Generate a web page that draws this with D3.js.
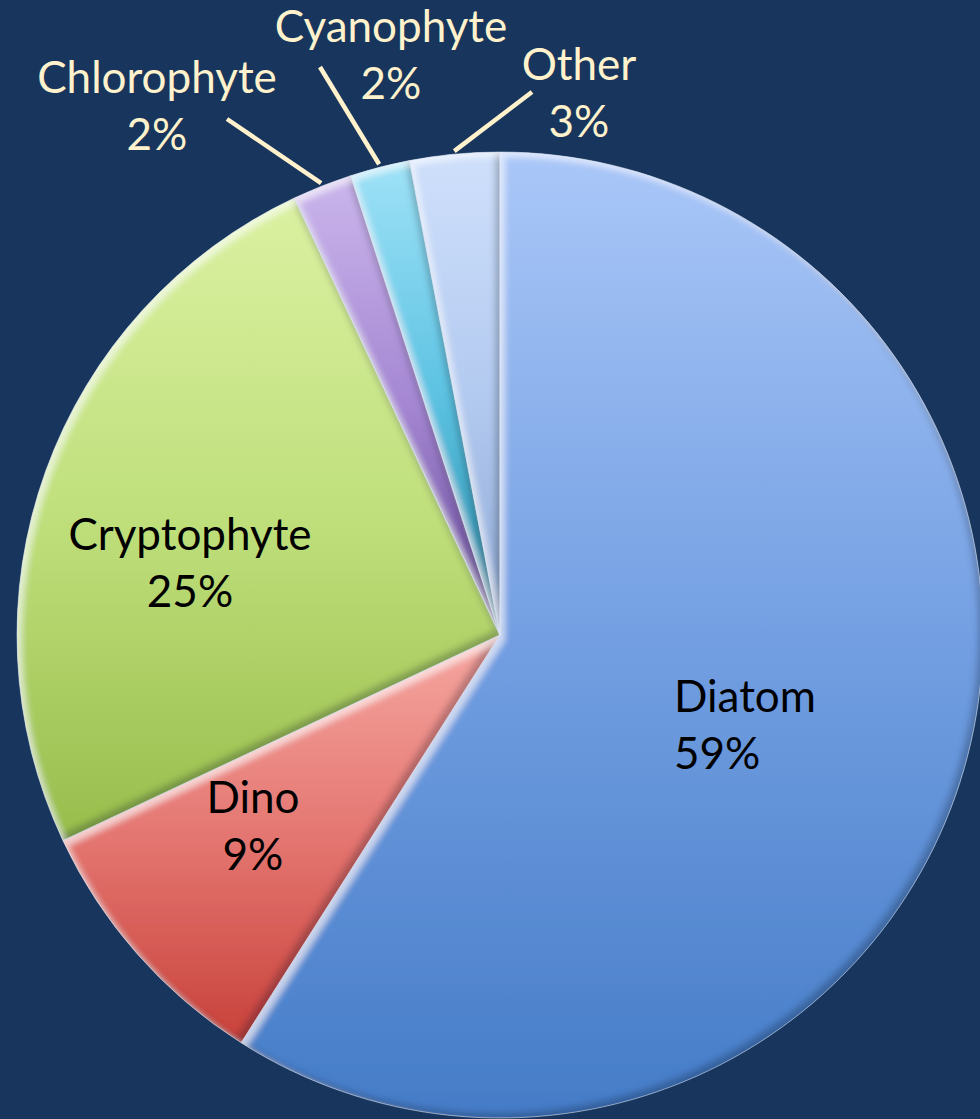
<!DOCTYPE html>
<html>
<head>
<meta charset="utf-8">
<script src="https://cdn.jsdelivr.net/npm/d3@7"></script>
<style>
  html, body { margin: 0; padding: 0; background: #18365d; }
  svg { display: block; }
</style>
</head>
<body>
<svg id="chart" width="980" height="1119"></svg>
<script>
// Phytoplankton community composition (percent of total)
const categories = ["Diatom", "Dino", "Cryptophyte", "Chlorophyte", "Cyanophyte", "Other"];
const percents   = [59, 9, 25, 2, 2, 3];
const valueLabels = ["59%", "9%", "25%", "2%", "2%", "3%"];

// Slice shading: light at the top of each slice, darker toward the bottom
const sliceColors = {
  Diatom:      ["#aac7f8", "#739fe2", "#457cc7"],
  Dino:        ["#f6a7a1", "#e47570", "#c8423b"],
  Cryptophyte: ["#dbf1a2", "#bfdf7b", "#98bd4c"],
  Chlorophyte: ["#cbb6ec", "#a486d2", "#654896"],
  Cyanophyte:  ["#9fe2f7", "#5cc2e2", "#2a8aa6"],
  Other:       ["#cfe0fb", "#b3caf0", "#8ea9d4"]
};

// Label placement: inside labels are black, outside labels are cream with a leader line
const labelLayout = {
  Diatom:      { x: 674, y: 712, anchor: "start", fill: "#000" },
  Dino:        { x: 253, y: 813, anchor: "middle", fill: "#000" },
  Cryptophyte: { x: 190, y: 550, anchor: "middle", fill: "#000" },
  Chlorophyte: { x: 157, y: 93,  anchor: "middle", fill: "#fff2cc", leader: [227, 119] },
  Cyanophyte:  { x: 391, y: 42,  anchor: "middle", fill: "#fff2cc", leader: [320, 67] },
  Other:       { x: 579, y: 80,  anchor: "middle", fill: "#fff2cc", leader: [532, 92] }
};

const cx = 500, cy = 635, radius = 483;
const lineGap = 57;
const fontSize = 44;

const data = categories.map((c, i) => ({ category: c, value: percents[i], label: valueLabels[i] }));

const svg = d3.select("#chart");
const defs = svg.append("defs");

// Vertical gradient per slice
categories.forEach((c, i) => {
  const g = defs.append("linearGradient")
    .attr("id", "grad" + i)
    .attr("x1", 0).attr("y1", 0).attr("x2", 0).attr("y2", 1);
  const cols = sliceColors[c];
  g.append("stop").attr("offset", "0%").attr("stop-color", cols[0]);
  g.append("stop").attr("offset", "50%").attr("stop-color", cols[1]);
  g.append("stop").attr("offset", "100%").attr("stop-color", cols[2]);
});

// Soft bevel: light inner rim top-left, dark inner rim bottom-right
const f = defs.append("filter").attr("id", "bevel")
  .attr("x", "-5%").attr("y", "-5%").attr("width", "110%").attr("height", "110%");
f.append("feOffset").attr("in", "SourceAlpha").attr("dx", 5).attr("dy", 5).attr("result", "offL");
f.append("feGaussianBlur").attr("in", "offL").attr("stdDeviation", 3).attr("result", "offLB");
f.append("feComposite").attr("operator", "out").attr("in", "SourceAlpha").attr("in2", "offLB").attr("result", "rimL");
f.append("feFlood").attr("flood-color", "#ffffff").attr("flood-opacity", 0.55).attr("result", "white");
f.append("feComposite").attr("operator", "in").attr("in", "white").attr("in2", "rimL").attr("result", "hi");
f.append("feOffset").attr("in", "SourceAlpha").attr("dx", -5).attr("dy", -5).attr("result", "offD");
f.append("feGaussianBlur").attr("in", "offD").attr("stdDeviation", 3).attr("result", "offDB");
f.append("feComposite").attr("operator", "out").attr("in", "SourceAlpha").attr("in2", "offDB").attr("result", "rimD");
f.append("feFlood").attr("flood-color", "#0b1a33").attr("flood-opacity", 0.45).attr("result", "dark");
f.append("feComposite").attr("operator", "in").attr("in", "dark").attr("in2", "rimD").attr("result", "lo");
const m = f.append("feMerge");
m.append("feMergeNode").attr("in", "SourceGraphic");
m.append("feMergeNode").attr("in", "lo");
m.append("feMergeNode").attr("in", "hi");

const pie = d3.pie().sort(null).value(d => d.value);
const arc = d3.arc().innerRadius(0).outerRadius(radius);
const arcs = pie(data);

const g = svg.append("g").attr("transform", `translate(${cx},${cy})`);

g.selectAll("path.slice")
  .data(arcs)
  .join("path")
  .attr("class", "slice")
  .attr("d", arc)
  .attr("fill", (d, i) => `url(#grad${i})`)
  .attr("filter", "url(#bevel)");

// thin light seams between slices
g.selectAll("path.seam")
  .data(arcs)
  .join("path")
  .attr("class", "seam")
  .attr("d", arc)
  .attr("fill", "none")
  .attr("stroke", "rgba(225,235,250,0.55)")
  .attr("stroke-width", 1);

// Leader lines from outside labels to their slices
const leaderArc = d3.arc().innerRadius(radius + 3).outerRadius(radius + 3);
arcs.forEach(d => {
  const lay = labelLayout[d.data.category];
  if (!lay.leader) return;
  const [px, py] = leaderArc.centroid(d);
  svg.append("line")
    .attr("x1", lay.leader[0]).attr("y1", lay.leader[1])
    .attr("x2", cx + px).attr("y2", cy + py)
    .attr("stroke", "#fff2cc")
    .attr("stroke-width", 4.5);
});

// Labels
arcs.forEach(d => {
  const lay = labelLayout[d.data.category];
  const t = svg.append("text")
    .attr("x", lay.x).attr("y", lay.y)
    .attr("text-anchor", lay.anchor)
    .attr("fill", lay.fill)
    .attr("font-family", "Lato, 'Open Sans', sans-serif")
    .attr("font-size", fontSize);
  t.append("tspan").attr("x", lay.x).text(d.data.category);
  t.append("tspan").attr("x", lay.x).attr("dy", lineGap).text(d.data.label);
});
</script>
</body>
</html>
